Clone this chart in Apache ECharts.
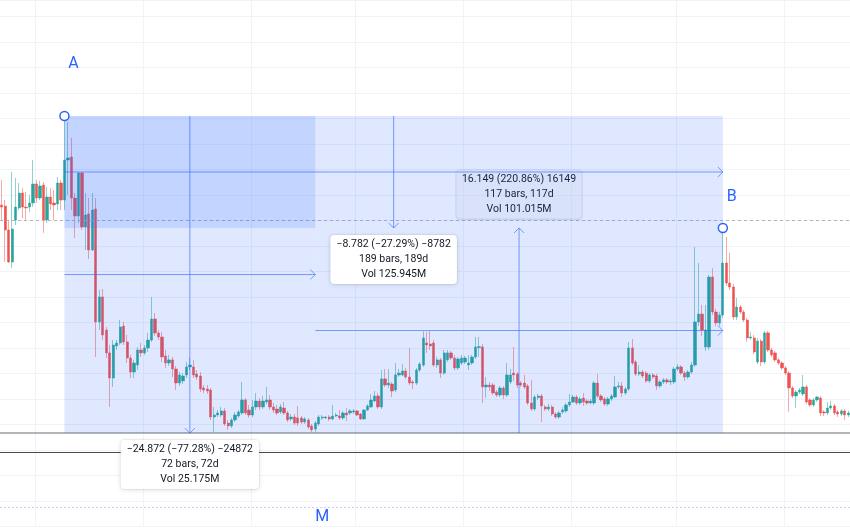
<!DOCTYPE html>
<html>
<head>
<meta charset="utf-8">
<script src="https://cdn.jsdelivr.net/npm/echarts@6/dist/echarts.min.js"></script>
<style>
html,body{margin:0;padding:0;background:#fff}
#chart{width:850px;height:531px}
</style>
</head>
<body>
<div id="chart"></div>
<script>
// daily bars: [open, close, low, high]
const candles = [
[25.20,25.04,24.03,27.16],[25.12,23.24,20.73,25.59],[23.24,20.73,20.65,24.03],[20.73,23.32,20.26,27.79],
[24.03,25.04,23.63,27.32],[24.97,26.14,24.81,26.93],[26.14,25.04,24.18,26.53],[25.04,24.97,24.03,26.22],
[25.04,25.36,24.65,25.99],[25.36,26.85,25.04,28.73],[26.85,25.75,25.36,27.16],[25.75,26.69,25.59,27.08],
[26.77,24.03,23.01,27.01],[24.03,25.83,23.79,26.61],[25.83,25.28,24.81,26.53],[25.36,25.20,24.03,26.38],
[25.28,26.93,24.81,27.40],[26.93,25.59,24.81,27.16],[25.59,28.73,24.81,32.18],[28.73,28.89,25.99,31.71],
[28.97,25.75,24.81,30.46],[25.75,24.34,22.61,26.14],[24.34,27.71,23.79,27.79],[27.71,23.48,23.24,27.79],
[23.48,24.42,21.67,26.14],[24.50,21.67,20.97,25.75],[21.67,24.81,21.60,26.14],[24.89,16.03,13.28,25.75],
[16.03,17.99,15.40,18.54],[17.99,15.01,14.61,18.61],[15.40,13.60,13.20,15.64],[13.60,11.63,9.36,14.22],
[11.63,14.22,10.93,14.61],[14.14,14.38,13.83,14.61],[14.38,15.63,14.22,16.18],[15.71,14.46,14.22,16.03],
[14.46,13.20,12.81,15.01],[13.20,12.10,11.63,13.44],[12.10,12.81,11.63,13.05],[12.65,13.83,12.26,14.06],
[13.83,13.60,13.28,14.38],[13.60,13.99,13.44,14.22],[13.99,14.61,13.67,15.17],[14.61,16.26,14.46,17.99],
[16.26,15.16,14.93,16.73],[15.16,14.85,14.61,15.40],[14.85,13.28,12.89,15.24],[13.36,12.81,12.42,13.83],
[12.81,13.05,12.57,13.44],[13.05,12.34,11.71,13.28],[12.34,11.24,10.69,12.57],[11.24,11.87,11.01,12.10],
[11.40,11.79,11.16,12.02],[11.87,12.50,11.63,12.89],[12.50,12.65,12.26,13.20],[12.50,11.87,11.63,13.05],
[11.95,11.71,11.48,12.26],[11.79,10.77,10.53,12.10],[10.85,10.69,10.46,11.08],[10.77,10.61,10.38,11.08],
[10.69,8.57,8.34,10.85],[8.57,8.73,7.40,9.36],[8.73,8.89,8.57,9.12],[8.73,9.05,8.57,9.36],
[9.05,8.03,7.87,9.28],[8.10,7.87,7.56,8.34],[7.87,8.34,7.71,8.50],[8.34,8.73,8.18,8.97],
[8.65,8.97,8.50,9.12],[8.89,9.91,8.73,11.32],[9.91,8.89,8.73,10.06],[9.12,8.73,8.50,9.52],
[8.73,9.36,8.57,9.91],[9.36,9.83,9.12,10.46],[9.83,9.36,9.12,10.06],[9.36,9.83,9.20,10.22],
[9.75,9.91,9.59,10.93],[9.91,9.36,9.12,10.30],[9.36,9.12,8.89,9.67],[9.20,8.89,8.73,9.52],
[8.97,9.36,8.81,9.59],[9.28,8.89,8.73,9.75],[8.89,8.34,8.18,9.05],[8.42,8.57,8.26,8.81],
[8.57,8.10,7.95,8.81],[8.50,8.10,7.87,9.44],[8.50,8.18,8.03,8.65],[8.18,8.42,8.03,8.57],
[8.34,7.79,7.63,8.50],[7.87,7.56,7.40,8.03],[7.63,8.10,7.31,8.26],[8.03,8.57,7.87,8.73],
[8.50,8.57,8.34,8.73],[8.50,8.57,8.42,8.65],[8.57,8.42,8.26,8.73],[8.42,8.65,8.34,9.52],
[8.65,8.73,8.57,8.89],[8.65,8.50,8.34,9.12],[8.50,8.89,8.34,9.05],[8.89,8.73,8.26,9.28],
[8.89,9.05,8.73,9.20],[8.97,9.05,8.81,9.20],[9.05,8.73,8.65,9.12],[8.81,8.42,8.34,8.89],
[8.42,9.12,8.34,9.20],[9.12,9.44,9.05,9.59],[9.36,9.91,9.28,10.38],[9.83,10.22,9.75,10.61],
[10.22,9.36,9.20,10.46],[9.36,11.56,9.20,12.26],[11.56,11.08,10.93,12.34],[11.08,11.24,10.85,12.34],
[11.16,10.61,10.14,11.32],[10.69,11.87,10.53,12.81],[11.87,12.02,11.71,12.34],[11.87,12.18,11.79,12.73],
[12.18,11.71,11.56,12.42],[11.71,11.24,11.08,13.99],[11.32,11.24,10.77,11.48],[11.24,12.26,11.08,12.42],
[12.26,12.73,12.10,12.89],[12.65,14.77,12.50,15.30],[14.38,14.22,13.60,15.24],[14.30,14.14,13.83,15.32],
[14.38,12.65,12.50,14.61],[12.65,13.05,12.42,13.28],[13.05,12.02,11.63,13.20],[12.02,13.60,11.87,13.83],
[13.05,13.60,12.89,13.83],[13.60,13.20,13.05,13.75],[13.20,12.42,12.26,13.44],[12.42,13.12,12.26,13.28],
[12.81,13.20,12.65,13.44],[12.89,13.20,12.73,13.36],[12.65,12.81,12.26,13.44],[12.81,13.28,12.65,13.44],
[13.28,14.06,13.12,14.85],[14.02,14.10,13.28,14.85],[14.06,10.93,9.67,14.30],[10.93,11.08,10.06,11.71],
[11.08,10.93,10.61,11.32],[11.08,10.46,10.30,11.24],[10.53,10.30,10.14,10.69],[10.30,10.85,10.14,11.01],
[10.85,10.30,9.99,11.01],[10.30,11.87,10.14,12.81],[11.32,11.87,11.16,12.34],[12.02,11.87,11.40,14.06],
[11.95,11.08,10.85,12.10],[11.24,11.08,10.93,11.40],[11.24,10.93,10.77,11.87],[11.01,9.67,9.52,11.16],
[9.67,9.20,9.05,11.48],[9.20,10.14,9.05,10.30],[10.10,10.22,9.91,10.38],[10.22,9.44,8.18,10.38],
[9.36,9.20,9.05,9.52],[9.20,9.36,9.05,9.59],[9.36,8.81,8.65,9.52],[8.81,8.57,8.42,8.97],
[8.57,8.89,8.42,9.05],[8.97,9.12,8.81,9.36],[9.05,9.52,8.89,9.67],[9.52,9.75,9.36,10.38],
[9.75,10.14,9.67,10.30],[10.14,9.67,9.52,10.30],[9.67,9.99,9.52,10.14],[10.06,9.75,9.44,10.46],
[9.83,9.67,9.52,9.99],[9.67,9.83,9.59,9.99],[9.67,11.24,9.52,11.40],[11.24,10.22,10.06,11.95],
[10.22,9.91,9.75,10.38],[9.99,9.59,9.44,10.14],[9.59,9.99,9.44,10.14],[9.99,10.22,9.83,10.38],
[10.14,10.93,10.06,11.80],[10.93,11.01,10.77,11.32],[11.01,10.46,10.14,11.32],[10.46,10.77,10.30,10.93],
[10.77,13.99,10.61,14.46],[13.99,12.81,12.65,14.69],[12.89,11.95,11.79,13.05],[11.95,12.10,11.79,12.65],
[12.10,11.79,11.63,12.26],[12.02,11.40,11.24,12.18],[11.40,11.87,11.24,12.02],[11.87,11.71,11.56,12.02],
[11.79,11.01,10.69,11.95],[11.01,11.32,10.85,11.48],[11.32,11.48,11.16,11.63],[11.48,11.32,11.16,11.63],
[11.32,11.40,11.08,11.56],[11.32,12.34,11.16,12.50],[12.34,12.50,12.18,12.73],[12.50,12.02,11.87,12.65],
[12.02,11.71,11.40,12.18],[11.71,12.10,11.56,12.26],[12.10,12.65,11.95,12.89],[12.65,16.03,12.50,21.91],
[16.03,16.65,15.71,20.65],[16.65,15.40,14.93,17.36],[14.06,15.40,13.75,17.36],[14.06,19.55,13.83,19.71],
[19.55,16.81,16.57,20.24],[16.81,15.95,15.71,17.05],[15.95,16.57,15.71,16.81],[16.57,20.65,16.34,23.40],
[20.65,19.08,18.85,22.69],[19.08,18.77,18.54,21.44],[18.77,16.42,16.18,19.00],[16.42,17.20,16.18,17.91],
[17.20,16.81,16.65,17.36],[16.81,16.18,16.03,16.97],[16.18,14.77,14.46,16.34],[14.77,14.85,14.61,15.24],
[14.77,13.67,13.52,15.01],[12.89,14.53,12.73,14.77],[14.53,12.89,12.57,14.69],[12.89,15.17,12.73,15.32],
[15.17,13.83,13.67,15.32],[13.83,13.44,13.28,13.99],[13.60,13.05,12.89,13.75],[13.05,12.81,12.65,13.20],
[12.81,12.42,12.26,12.97],[12.42,12.02,11.87,12.57],[12.02,10.85,8.97,12.18],[10.85,10.22,10.06,11.01],
[10.22,10.53,9.28,10.69],[10.53,10.69,10.38,10.85],[10.38,10.93,10.22,11.87],[10.93,9.75,9.59,11.08],
[9.91,9.52,9.36,10.06],[9.52,9.91,9.36,10.06],[9.91,10.14,9.75,10.22],[10.06,8.89,8.65,10.22],
[8.97,8.89,8.65,9.12],[8.89,9.28,8.73,9.75],[9.28,9.44,9.12,9.83],[9.44,8.89,8.73,9.59],
[8.97,8.81,8.57,9.12],[8.81,9.05,8.65,9.20],[9.05,8.73,8.34,9.20],[8.73,8.89,8.57,9.05]
];
const days = candles.map((c, i) => 'D' + (i + 1));
// month boundaries used for the vertical grid
const monthStarts = [10, 41, 72, 102, 133, 164, 194, 225];
const lastPrice = 24.02;
const paneLine = 5.83;
const dottedLine = 1.52;

// measured points: bar index and which price of it
const points = {
    A: { idx: 18, price: candles[18][3] },
    M: { idx: 90, price: candles[90][2] },
    B: { idx: 207, price: candles[207][3] }
};
const measures = [
    { from: 'A', to: 'B', text: ['\u22128.782 (\u221227.29%) \u22128782', '189 bars, 189d', 'Vol 125.945M'] },
    { from: 'A', to: 'M', text: ['\u221224.872 (\u221277.28%) \u221224872', '72 bars, 72d', 'Vol 25.175M'] },
    { from: 'M', to: 'B', text: ['16.149 (220.86%) 16149', '117 bars, 117d', 'Vol 101.015M'], faded: true }
];

const up = '#26a69a', down = '#ef5350';
const blue = '#2962ff';
// bodies only, wicks are drawn by the pale series underneath
const bodies = candles.map(c => [c[0], c[1], Math.min(c[0], c[1]), Math.max(c[0], c[1])]);

const chart = echarts.init(document.getElementById('chart'));
chart.setOption({
    animation: false,
    backgroundColor: '#fff',
    grid: { left: 0, top: 0, width: 852, height: 526.3 },
    xAxis: {
        type: 'category',
        data: days,
        boundaryGap: true,
        axisLine: { show: false },
        axisTick: { show: false },
        axisLabel: { show: false },
        splitLine: {
            show: true,
            interval: (i) => monthStarts.indexOf(i) >= 0,
            lineStyle: { color: '#f0f3fa', width: 1 }
        }
    },
    yAxis: {
        type: 'value',
        min: 0,
        max: 41.28,
        interval: 2,
        axisLine: { show: false },
        axisTick: { show: false },
        axisLabel: { show: false },
        splitLine: { lineStyle: { color: '#f0f3fa', width: 1 } }
    },
    series: [
        {
            name: 'wicks',
            type: 'candlestick',
            data: candles,
            barWidth: 1,
            itemStyle: {
                color: 'rgba(38,166,154,0.5)', color0: 'rgba(239,83,80,0.5)',
                borderColor: 'rgba(38,166,154,0.5)', borderColor0: 'rgba(239,83,80,0.5)',
                borderWidth: 1
            },
            markLine: {
                silent: true,
                symbol: 'none',
                label: { show: false },
                data: [
                    { yAxis: lastPrice, lineStyle: { color: '#b2b5be', type: [3, 3], width: 1 } },
                    { yAxis: points.M.price, lineStyle: { color: '#9a9ca3', type: 'solid', width: 1.5 } },
                    { yAxis: paneLine, lineStyle: { color: '#4a4a4a', type: 'solid', width: 1 } },
                    { yAxis: dottedLine, lineStyle: { color: '#c9d4f5', type: [2, 2], width: 1 } }
                ]
            }
        },
        {
            name: 'bodies',
            type: 'candlestick',
            data: bodies,
            barWidth: 2.8,
            itemStyle: {
                color: up, color0: down,
                borderColor: up, borderColor0: down,
                borderWidth: 0.5
            }
        }
    ]
});

function drawMeasures() {
    const px = (k) => chart.convertToPixel({ gridIndex: 0 }, [points[k].idx, points[k].price]);
    const els = [];
    const arrow = 'rgba(41,98,255,0.6)';
    measures.forEach((m) => {
        const p1 = px(m.from), p2 = px(m.to);
        const x0 = Math.min(p1[0], p2[0]), x1 = Math.max(p1[0], p2[0]);
        const y0 = Math.min(p1[1], p2[1]), y1 = Math.max(p1[1], p2[1]);
        els.push({ type: 'rect', z: 10, shape: { x: x0, y: y0, width: x1 - x0, height: y1 - y0 },
            style: { fill: 'rgba(41,98,255,0.15)' } });
        const mx = (p1[0] + p2[0]) / 2, my = (p1[1] + p2[1]) / 2;
        const dx = Math.sign(p2[0] - p1[0]), dy = Math.sign(p2[1] - p1[1]);
        els.push({ type: 'line', z: 11, shape: { x1: p1[0], y1: my, x2: p2[0], y2: my },
            style: { stroke: arrow, lineWidth: 1 } });
        els.push({ type: 'polyline', z: 11,
            shape: { points: [[p2[0] - 5 * dx, my - 5], [p2[0], my], [p2[0] - 5 * dx, my + 5]] },
            style: { stroke: arrow, lineWidth: 1, fill: null } });
        els.push({ type: 'line', z: 11, shape: { x1: mx, y1: p1[1], x2: mx, y2: p2[1] },
            style: { stroke: arrow, lineWidth: 1 } });
        els.push({ type: 'polyline', z: 11,
            shape: { points: [[mx - 5, p2[1] - 5 * dy], [mx, p2[1]], [mx + 5, p2[1] - 5 * dy]] },
            style: { stroke: arrow, lineWidth: 1, fill: null } });
        const below = dy > 0;
        els.push({
            type: 'text', z: m.faded ? 9 : 12,
            x: mx, y: below ? y1 + 7 : y0 - 9,
            style: {
                text: m.text.join('\n'),
                font: '10.5px Roboto',
                fill: '#131722',
                align: 'center', textAlign: 'center',
                verticalAlign: below ? 'top' : 'bottom', textVerticalAlign: below ? 'top' : 'bottom',
                lineHeight: 15,
                padding: [2, 6],
                borderRadius: 4,
                backgroundColor: m.faded ? 'rgba(255,255,255,0.35)' : '#fff',
                borderColor: m.faded ? 'rgba(19,23,34,0.06)' : 'rgba(19,23,34,0.05)',
                borderWidth: 1,
                shadowBlur: m.faded ? 0 : 5,
                shadowColor: 'rgba(0,0,0,0.12)',
                shadowOffsetY: 1
            }
        });
    });
    ['A', 'B'].forEach((k) => {
        const p = px(k);
        els.push({ type: 'circle', z: 13, shape: { cx: p[0], cy: p[1], r: 4.5 },
            style: { fill: '#fff', stroke: blue, lineWidth: 1.5 } });
    });
    const letterOffset = { A: [9, -52], B: [9, -31], M: [7, 84] };
    Object.keys(letterOffset).forEach((k) => {
        const p = px(k);
        els.push({ type: 'text', z: 13, x: p[0] + letterOffset[k][0], y: p[1] + letterOffset[k][1],
            style: { text: k, font: '16px Roboto', fill: blue, align: 'center', textAlign: 'center',
                verticalAlign: 'middle', textVerticalAlign: 'middle' } });
    });
    chart.setOption({ graphic: { elements: els } });
}
drawMeasures();
</script>
</body>
</html>
